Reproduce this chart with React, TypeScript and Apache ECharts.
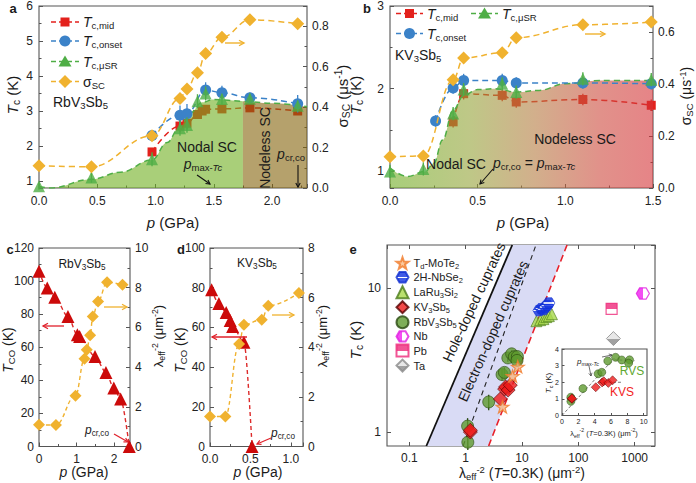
import React, { useEffect, useRef } from 'react';
import * as echarts from 'echarts';

const FF = '"Liberation Sans", Arial, Helvetica, sans-serif';

// ---------- Panel a : RbV3Sb5 ----------
const pRb = [0, 0.45, 0.97, 1.21, 1.27, 1.36, 1.43, 1.57, 1.81, 2.22];
const sigmaRb = [0.11, 0.105, 0.258, 0.443, 0.49, 0.57, 0.665, 0.745, 0.832, 0.812];
const tcMuSRRb = [0.85, 1.1, 1.62, 2.51, 2.6, 3.28, 3.5, 3.34, 3.35, 3.15];
const tcMuSRErrRb = [0.1, 0.15, 0.2, 0.22, 0.22, 0.2, 0.2, 0.15, 0.15, 0.15];
const pOnsetRb = [0.97, 1.21, 1.27, 1.43, 1.57, 1.81, 2.22];
const tcOnsetRb = [2.3, 2.88, 2.92, 3.6, 3.52, 3.38, 3.21];
const tcOnsetErrRb = [0.15, 0.28, 0.28, 0.22, 0.2, 0.15, 0.25];
const pMidRb = [0.97, 1.21, 1.27, 1.36, 1.4, 1.43, 1.57, 1.81, 2.22];
const tcMidRb = [1.83, 2.57, 2.65, 2.9, 3.0, 3.05, 3.06, 3.09, 3.0];
const tcMidErrRb = [0.1, 0.18, 0.18, 0.12, 0.1, 0.1, 0.06, 0.06, 0.06];
const pBoundRb = [0, 0.1, 0.45, 0.7, 0.97, 1.1, 1.2, 1.3, 1.4, 1.5, 1.75, 2.0, 2.3];
const tcBoundRb = [0.84, 0.8, 1.05, 1.25, 1.6, 2.1, 2.5, 2.95, 3.25, 3.33, 3.28, 3.22, 3.12];
const pNodelessRb = 1.75;

// ---------- Panel b : KV3Sb5 ----------
const pK = [0, 0.19, 0.36, 0.42, 0.64, 0.72, 1.1, 1.49];
const sigmaK = [0.12, 0.123, 0.416, 0.5, 0.52, 0.578, 0.628, 0.638];
const tcMuSRK = [1.0, 1.03, 1.7, 1.99, 2.06, 1.96, 2.12, 2.11];
const tcMuSRErrK = [0.08, 0.08, 0.08, 0.08, 0.08, 0.08, 0.08, 0.08];
const pOnsetK = [0.26, 0.36, 0.42, 0.64, 0.72, 1.1, 1.49];
const tcOnsetK = [1.61, 2.01, 2.1, 2.1, 2.07, 2.07, 2.06];
const tcOnsetErrK = [0.07, 0.07, 0.08, 0.08, 0.07, 0.07, 0.07];
const pMidK = [0.36, 0.42, 0.64, 0.72, 1.1, 1.49];
const tcMidK = [1.6, 1.94, 1.92, 1.84, 1.87, 1.8];
const tcMidErrK = [0.07, 0.07, 0.07, 0.07, 0.07, 0.07];
const pBoundK = [0, 0.1, 0.2, 0.25, 0.3, 0.36, 0.42, 0.5, 0.6, 0.72, 0.85, 1.0, 1.2, 1.5];
const tcBoundK = [1.04, 0.94, 1.0, 1.1, 1.38, 1.74, 1.92, 1.99, 2.0, 1.96, 1.98, 2.06, 2.1, 2.1];

// ---------- Panel c : RbV3Sb5 T_CO & lambda ----------
const pTcoRb = [0.0, 0.22, 0.42, 0.77, 1.02, 1.08, 1.49, 1.78, 1.99, 2.17, 2.4];
const tcoRb = [106, 95.8, 90.3, 78.6, 67.5, 66.5, 54.4, 44.8, 35.3, 28.7, 0];
const lambdaRb = [1.09, 1.08, 2.56, 4.42, 4.87, 5.6, 6.55, 7.31, 8.27, 8.15];

// ---------- Panel d : KV3Sb5 T_CO & lambda ----------
const pTcoK = [0.02, 0.11, 0.2, 0.25, 0.28, 0.42, 0.52];
const tcoK = [79, 72, 67.5, 63.5, 60.5, 52.5, 0];
const pLambdaK = [0, 0.19, 0.36, 0.42, 0.64, 0.72, 1.1];
const lambdaK = [1.21, 1.21, 4.13, 4.91, 5.11, 5.67, 6.19];
const tcMuSRKLambda = [1.0, 1.03, 1.7, 1.99, 2.06, 1.96, 2.12];

// ---------- Panel e : Uemura plot ----------
const moTe2Lambda = [4.5, 6.8, 8.4];
const moTe2Tc = [1.5, 2.45, 2.85];
const nbSe2Lambda = [20, 22, 24, 26, 28, 30];
const nbSe2Tc = [7.0, 7.2, 7.1, 7.4, 7.6, 7.9];
const laRuLambda = [18, 21, 24, 27, 30, 34];
const laRuTc = [5.9, 6.0, 6.1, 6.3, 6.4, 6.6];
const nbLambda = [1400];
const nbTc = [9.2];
const pbLambda = [390];
const pbTc = [7.2];
const taLambda = [420];
const taTc = [4.47];
const holeLineX = [0.2, 6.7];
const holeLineY = [0.8, 20];
const electronLineX = [0.9, 17.7];
const electronLineY = [0.8, 20];
const redLineX = [2.55, 63];
const redLineY = [0.8, 20];
// inset guides
const guideRiseX = [0, 6.4];
const guideRiseY = [0, 3.45];
const guidePlateauX = [6.4, 8.9];
const guidePlateauY = [3.35, 3.3];
const guideKX = [4.4, 7.4];
const guideKY = [2.0, 2.0];

// ---------- colours ----------
const RED = '#e3211c';
const BLUE = '#3b82c8';
const GREEN = '#4fae46';
const ORANGE = '#f0b22f';
const DRED = '#cc0a0a';
const TXT = '#1a1a1a';

const zipXY = (xs: number[], ys: number[]) => xs.map((x, i) => [x, ys[i]]);

function rich(S: number) {
  const L = S + 3;
  const s = Math.round(S * 0.68 * 10) / 10;
  const sl = Math.max(s - 1, 4);
  return {
    n: { fontSize: S, fontFamily: FF, lineHeight: L },
    i: { fontSize: S, fontFamily: FF, fontStyle: 'italic', lineHeight: L },
    b: { fontSize: S, fontFamily: FF, fontWeight: 'bold', lineHeight: L },
    s: { fontSize: s, fontFamily: FF, lineHeight: sl, verticalAlign: 'bottom' },
    si: { fontSize: s, fontFamily: FF, fontStyle: 'italic', lineHeight: sl, verticalAlign: 'bottom' },
    u: { fontSize: s, fontFamily: FF, lineHeight: sl, verticalAlign: 'top' },
  };
}

function gtext(x: number, y: number, text: string, S: number, o: any = {}) {
  const align = o.align || 'center';
  return {
    type: 'text',
    x,
    y,
    rotation: o.rot || 0,
    z: 100,
    silent: true,
    style: {
      text,
      rich: rich(S),
      fill: o.color || TXT,
      font: `${S}px ${FF}`,
      align,
      verticalAlign: 'middle',
      textAlign: align,
      textVerticalAlign: 'middle',
    },
  };
}

function arrow(x1: number, y1: number, x2: number, y2: number, color: string, w = 1.3, head = 5) {
  const a = Math.atan2(y2 - y1, x2 - x1);
  const hx = x2 - head * Math.cos(a);
  const hy = y2 - head * Math.sin(a);
  const px = -Math.sin(a) * head * 0.55;
  const py = Math.cos(a) * head * 0.55;
  return [
    { type: 'line', z: 100, silent: true, shape: { x1, y1, x2, y2 }, style: { stroke: color, lineWidth: w } },
    {
      type: 'polyline', z: 100, silent: true,
      shape: { points: [[hx + px, hy + py], [x2, y2], [hx - px, hy - py]] },
      style: { stroke: color, lineWidth: w, fill: null },
    },
  ];
}

function legendMarker(sym: string, cx: number, cy: number, color: string) {
  if (sym === 'rect') return { type: 'rect', z: 100, shape: { x: cx - 4.5, y: cy - 4.5, width: 9, height: 9 }, style: { fill: color } };
  if (sym === 'circle') return { type: 'circle', z: 100, shape: { cx, cy, r: 5.5 }, style: { fill: color } };
  if (sym === 'triangle') return { type: 'polygon', z: 100, shape: { points: [[cx, cy - 6], [cx + 6.5, cy + 5], [cx - 6.5, cy + 5]] }, style: { fill: color } };
  return { type: 'polygon', z: 100, shape: { points: [[cx, cy - 6.5], [cx + 6.5, cy], [cx, cy + 6.5], [cx - 6.5, cy]] }, style: { fill: color } };
}

function legendRow(x1: number, x2: number, y: number, color: string, sym: string, label: string) {
  return [
    { type: 'line', z: 100, shape: { x1, y1: y, x2, y2: y }, style: { stroke: color, lineWidth: 1.5, lineDash: [5, 3] } },
    legendMarker(sym, (x1 + x2) / 2, y, color),
    gtext(x2 + 4, y, label, 14, { align: 'left' }),
  ];
}

function ax(o: any) {
  const { axisLabel, axisTick, minorTick, ...rest } = o;
  return {
    type: 'value',
    axisLine: { show: false },
    axisTick: { show: true, inside: true, length: 4, lineStyle: { color: '#555', width: 1 }, ...(axisTick || {}) },
    minorTick: { show: true, splitNumber: 2, length: 2.5, lineStyle: { color: '#555', width: 1 }, ...(minorTick || {}) },
    splitLine: { show: false },
    minorSplitLine: { show: false },
    axisLabel: { fontSize: 12, fontFamily: FF, color: '#222', margin: 6, ...(axisLabel || {}) },
    ...rest,
  };
}

const f1 = (v: number) => v.toFixed(1);
const logFmt = (v: number) => (v >= 1 ? String(Math.round(v)) : String(+v.toPrecision(1)));

function dashedLine(xi: number, yi: number, data: number[][], color: string, sym: string, size: number, z: number, extra: any = {}) {
  return {
    type: 'line', xAxisIndex: xi, yAxisIndex: yi, z, data,
    smooth: 0.4, smoothMonotone: 'x',
    symbol: sym, symbolSize: size, showSymbol: sym !== 'none',
    itemStyle: { color },
    lineStyle: { color, width: 1.5, type: [6, 4] },
    silent: true,
    ...extra,
  };
}

function errBars(xi: number, yi: number, xs: number[], ys: number[], errs: number[], color: string, z: number) {
  return {
    type: 'custom', xAxisIndex: xi, yAxisIndex: yi, z, silent: true,
    data: xs.map((x, i) => [x, ys[i], errs[i]]),
    encode: { x: 0, y: 1 },
    renderItem: (params: any, api: any) => {
      const x = api.value(0);
      const y = api.value(1);
      const e = api.value(2);
      const p1 = api.coord([x, y - e]);
      const p2 = api.coord([x, y + e]);
      return { type: 'line', shape: { x1: p1[0], y1: p1[1], x2: p2[0], y2: p2[1] }, style: { stroke: color, lineWidth: 1.3 } };
    },
  };
}

function buildOption() {
  const boundA = zipXY(pBoundRb, tcBoundRb);
  const gradB = new echarts.graphic.LinearGradient(0, 0, 1, 0, [
    { offset: 0, color: 'rgb(110,173,33)' },
    { offset: 0.3, color: 'rgb(147,163,55)' },
    { offset: 0.55, color: 'rgb(180,122,63)' },
    { offset: 0.8, color: 'rgb(205,72,60)' },
    { offset: 1, color: 'rgb(213,50,55)' },
  ]);

  const hexPath = 'path://M-5,-8.66L5,-8.66L10,0L5,8.66L-5,8.66L-10,0Z';
  const starPath = 'path://M0,-10L2.35,-3.24L9.51,-3.09L3.8,1.24L5.88,8.09L0,4L-5.88,8.09L-3.8,1.24L-9.51,-3.09L-2.35,-3.24Z';

  const eNames = ['Td-MoTe2', '2H-NbSe2', 'LaRu3Si2', 'KV3Sb5', 'RbV3Sb5', 'Nb', 'Pb', 'Ta'];
  const eLabels: Record<string, string> = {
    'Td-MoTe2': '{n|T}{s|d}{n|-MoTe}{s|2}',
    '2H-NbSe2': '{n|2H-NbSe}{s|2}',
    'LaRu3Si2': '{n|LaRu}{s|3}{n|Si}{s|2}',
    'KV3Sb5': '{n|KV}{s|3}{n|Sb}{s|5}',
    'RbV3Sb5': '{n|RbV}{s|3}{n|Sb}{s|5}',
    'Nb': '{n|Nb}',
    'Pb': '{n|Pb}',
    'Ta': '{n|Ta}',
  };

  const scatterE = (name: string, data: number[][], symbol: string, size: number, itemStyle: any, z = 6) => ({
    type: 'scatter', name, xAxisIndex: 4, yAxisIndex: 8, z, data, symbol, symbolSize: size,
    symbolKeepAspect: true, itemStyle, silent: true,
  });

  const series: any[] = [
    // ----- panel a -----
    errBars(0, 0, pMidRb, tcMidRb, tcMidErrRb, RED, 2),
    dashedLine(0, 0, zipXY(pMidRb, tcMidRb), RED, 'rect', 9, 2),
    {
      type: 'line', xAxisIndex: 0, yAxisIndex: 0, z: 3, silent: true,
      data: boundA.filter((d) => d[0] <= pNodelessRb), smooth: 0.4, smoothMonotone: 'x',
      symbol: 'none', lineStyle: { opacity: 0 },
      areaStyle: { color: 'rgb(112,175,32)', opacity: 0.6, origin: 'start' },
    },
    {
      type: 'line', xAxisIndex: 0, yAxisIndex: 0, z: 3, silent: true,
      data: boundA.filter((d) => d[0] >= pNodelessRb), smooth: 0.4, smoothMonotone: 'x',
      symbol: 'none', lineStyle: { opacity: 0 },
      areaStyle: { color: 'rgb(132,98,10)', opacity: 0.6, origin: 'start' },
    },
    dashedLine(0, 0, boundA, GREEN, 'none', 0, 4),
    errBars(0, 0, pOnsetRb, tcOnsetRb, tcOnsetErrRb, BLUE, 4),
    dashedLine(0, 0, zipXY(pOnsetRb, tcOnsetRb), BLUE, 'circle', 11, 4),
    errBars(0, 0, pRb, tcMuSRRb, tcMuSRErrRb, GREEN, 5),
    { type: 'scatter', xAxisIndex: 0, yAxisIndex: 0, z: 5, silent: true, data: zipXY(pRb, tcMuSRRb), symbol: 'triangle', symbolSize: 12, itemStyle: { color: GREEN } },
    dashedLine(0, 1, zipXY(pRb, sigmaRb), ORANGE, 'diamond', 13, 6),

    // ----- panel b -----
    errBars(1, 2, pMidK, tcMidK, tcMidErrK, RED, 2),
    dashedLine(1, 2, zipXY(pMidK, tcMidK), RED, 'rect', 9, 2),
    {
      type: 'line', xAxisIndex: 1, yAxisIndex: 2, z: 3, silent: true,
      data: zipXY(pBoundK, tcBoundK), smooth: 0.4, smoothMonotone: 'x',
      symbol: 'none', lineStyle: { opacity: 0 },
      areaStyle: { color: gradB, opacity: 0.6, origin: 'start' },
    },
    dashedLine(1, 2, zipXY(pBoundK, tcBoundK), GREEN, 'none', 0, 4),
    errBars(1, 2, pOnsetK, tcOnsetK, tcOnsetErrK, BLUE, 4),
    dashedLine(1, 2, zipXY(pOnsetK, tcOnsetK), BLUE, 'circle', 11, 4),
    errBars(1, 2, pK, tcMuSRK, tcMuSRErrK, GREEN, 5),
    { type: 'scatter', xAxisIndex: 1, yAxisIndex: 2, z: 5, silent: true, data: zipXY(pK, tcMuSRK), symbol: 'triangle', symbolSize: 12, itemStyle: { color: GREEN } },
    dashedLine(1, 3, zipXY(pK, sigmaK), ORANGE, 'diamond', 13, 6),

    // ----- panel c -----
    dashedLine(2, 4, zipXY(pTcoRb, tcoRb), DRED, 'triangle', 13, 4, { smooth: 0.3, lineStyle: { color: '#dd2a2a', width: 1.4, type: [4, 3] } }),
    dashedLine(2, 5, zipXY(pRb, lambdaRb), ORANGE, 'diamond', 12, 5, { lineStyle: { color: ORANGE, width: 1.4, type: [4, 3] } }),

    // ----- panel d -----
    dashedLine(3, 6, zipXY(pTcoK, tcoK), DRED, 'triangle', 13, 4, { smooth: 0.3, lineStyle: { color: '#dd2a2a', width: 1.4, type: [4, 3] } }),
    dashedLine(3, 7, zipXY(pLambdaK, lambdaK), ORANGE, 'diamond', 12, 5, { lineStyle: { color: ORANGE, width: 1.4, type: [4, 3] } }),

    // ----- panel e -----
    {
      type: 'custom', xAxisIndex: 4, yAxisIndex: 8, z: 1, silent: true, clip: true,
      data: [holeLineX[0], holeLineX[1], redLineX[1], redLineX[0]].map((x, i) => [x, [holeLineY[0], holeLineY[1], redLineY[1], redLineY[0]][i]]),
      renderItem: (params: any, api: any) => {
        if (params.dataIndex !== 0) return null;
        const pts = [
          api.coord([holeLineX[0], holeLineY[0]]),
          api.coord([holeLineX[1], holeLineY[1]]),
          api.coord([redLineX[1], redLineY[1]]),
          api.coord([redLineX[0], redLineY[0]]),
        ];
        return { type: 'polygon', shape: { points: pts }, style: { fill: '#d9dbf5' } };
      },
    },
    { type: 'line', xAxisIndex: 4, yAxisIndex: 8, z: 2, silent: true, data: zipXY(holeLineX, holeLineY), symbol: 'none', lineStyle: { color: '#111', width: 1.8 } },
    { type: 'line', xAxisIndex: 4, yAxisIndex: 8, z: 2, silent: true, data: zipXY(electronLineX, electronLineY), symbol: 'none', lineStyle: { color: '#222', width: 1.1, type: [5, 4] } },
    { type: 'line', xAxisIndex: 4, yAxisIndex: 8, z: 2, silent: true, data: zipXY(redLineX, redLineY), symbol: 'none', lineStyle: { color: '#e8202a', width: 1.6, type: [7, 4] } },
    errBars(4, 8, lambdaRb, tcMuSRRb, tcMuSRErrRb, '#2b4a12', 4),
    scatterE('RbV3Sb5', zipXY(lambdaRb, tcMuSRRb), 'circle', 12, { color: '#5e9a2e', borderColor: '#2b4a12', borderWidth: 0.8 }, 5),
    scatterE('KV3Sb5', zipXY(lambdaK, tcMuSRKLambda), 'diamond', 14, { color: '#ee1c1c', borderColor: '#500', borderWidth: 0.8 }, 6),
    scatterE('Td-MoTe2', zipXY(moTe2Lambda, moTe2Tc), starPath, 13, { color: 'rgba(250,180,120,0.9)', borderColor: '#f07a2a', borderWidth: 1.2 }, 7),
    scatterE('2H-NbSe2', zipXY(nbSe2Lambda, nbSe2Tc), hexPath, 12, {
      color: new echarts.graphic.LinearGradient(0, 0, 0, 1, [
        { offset: 0, color: '#1232e0' }, { offset: 0.44, color: '#1232e0' },
        { offset: 0.44, color: '#ffffff' }, { offset: 0.56, color: '#ffffff' },
        { offset: 0.56, color: '#1232e0' }, { offset: 1, color: '#1232e0' },
      ]), borderColor: '#1030d0', borderWidth: 0.8,
    }, 7),
    scatterE('LaRu3Si2', zipXY(laRuLambda, laRuTc), 'triangle', 11, { color: '#a8d84a', borderColor: '#4a7a1a', borderWidth: 0.8 }, 6),
    scatterE('Nb', zipXY(nbLambda, nbTc), hexPath, 13, {
      color: new echarts.graphic.LinearGradient(0, 0, 1, 0, [
        { offset: 0, color: '#f020f0' }, { offset: 0.5, color: '#f020f0' },
        { offset: 0.5, color: '#ffffff' }, { offset: 1, color: '#ffffff' },
      ]), borderColor: '#e020e0', borderWidth: 1.2,
    }),
    scatterE('Pb', zipXY(pbLambda, pbTc), 'rect', 11, {
      color: new echarts.graphic.LinearGradient(0, 0, 0, 1, [
        { offset: 0, color: '#ee2a7b' }, { offset: 0.55, color: '#ee2a7b' },
        { offset: 0.55, color: '#ffffff' }, { offset: 1, color: '#ffffff' },
      ]), borderColor: '#ee2a7b', borderWidth: 1.2,
    }),
    scatterE('Ta', zipXY(taLambda, taTc), 'diamond', 14, {
      color: new echarts.graphic.LinearGradient(0, 0, 0, 1, [
        { offset: 0, color: '#e2e2e2' }, { offset: 0.5, color: '#e2e2e2' },
        { offset: 0.5, color: '#8a8a8a' }, { offset: 1, color: '#8a8a8a' },
      ]), borderColor: '#8a8a8a', borderWidth: 1,
    }),

    // ----- inset -----
    { type: 'line', xAxisIndex: 5, yAxisIndex: 9, z: 3, silent: true, data: zipXY(guideRiseX, guideRiseY), symbol: 'none', lineStyle: { color: '#555', width: 0.8, type: [3, 2] } },
    { type: 'line', xAxisIndex: 5, yAxisIndex: 9, z: 3, silent: true, data: zipXY(guidePlateauX, guidePlateauY), symbol: 'none', lineStyle: { color: '#555', width: 0.8, type: [3, 2] } },
    { type: 'line', xAxisIndex: 5, yAxisIndex: 9, z: 3, silent: true, data: zipXY(guideKX, guideKY), symbol: 'none', lineStyle: { color: '#555', width: 0.8, type: [3, 2] } },
    { type: 'scatter', xAxisIndex: 5, yAxisIndex: 9, z: 5, silent: true, data: zipXY(lambdaRb, tcMuSRRb), symbol: 'circle', symbolSize: 8, itemStyle: { color: '#5e9a2e', borderColor: '#2b4a12', borderWidth: 0.6 } },
    { type: 'scatter', xAxisIndex: 5, yAxisIndex: 9, z: 6, silent: true, data: zipXY(lambdaK, tcMuSRKLambda), symbol: 'diamond', symbolSize: 9, itemStyle: { color: '#ee1c1c', borderColor: '#500', borderWidth: 0.6 } },
  ];

  const grid = [
    { left: 39, top: 5, width: 268, height: 183 },
    { left: 390, top: 5, width: 263, height: 183 },
    { left: 39, top: 248, width: 91, height: 198.5 },
    { left: 210, top: 248, width: 93, height: 198.5 },
    { left: 387, top: 245, width: 268, height: 201 },
    { left: 562, top: 349, width: 85, height: 66.5, backgroundColor: '#ffffff' },
  ].map((g) => ({ show: true, borderColor: '#555', borderWidth: 1.1, backgroundColor: 'transparent', containLabel: false, ...g }));

  const xAxis = [
    ax({ gridIndex: 0, min: 0, max: 2.3, interval: 0.5, axisLabel: { formatter: f1, showMaxLabel: false, margin: 7 } }),
    ax({ gridIndex: 1, min: 0, max: 1.5, interval: 0.5, axisLabel: { formatter: f1, margin: 7 } }),
    ax({ gridIndex: 2, min: 0, max: 2.42, interval: 1, axisLabel: { showMaxLabel: false, margin: 6 } }),
    ax({ gridIndex: 3, min: 0, max: 1.15, interval: 0.5, axisLabel: { formatter: f1, showMaxLabel: false, margin: 6 } }),
    ax({ gridIndex: 4, type: 'log', logBase: 10, min: 0.04, max: 2300, minorTick: { show: false }, axisLabel: { formatter: logFmt, showMinLabel: false, showMaxLabel: false, margin: 6 } }),
    ax({ gridIndex: 5, min: 0, max: 10.4, interval: 2, axisTick: { length: 2.5 }, minorTick: { show: false }, axisLabel: { fontSize: 7, margin: 2, showMaxLabel: false } }),
    ax({ gridIndex: 4, type: 'log', logBase: 10, position: 'top', min: 0.04, max: 2300, minorTick: { show: false }, axisLabel: { show: false } }),
  ];

  const yAxis = [
    ax({ gridIndex: 0, min: 0.8, max: 6, minInterval: 1, maxInterval: 1, axisLabel: { showMinLabel: false, margin: 6 } }),
    ax({ gridIndex: 0, position: 'right', min: 0, max: 0.9, interval: 0.2, axisLabel: { formatter: f1, showMaxLabel: false, margin: 5 } }),
    ax({ gridIndex: 1, min: 0.8, max: 3, minInterval: 1, maxInterval: 1, axisLabel: { showMinLabel: false, margin: 6 } }),
    ax({ gridIndex: 1, position: 'right', min: 0, max: 0.7, interval: 0.2, axisLabel: { formatter: f1, showMaxLabel: false, margin: 5 } }),
    ax({ gridIndex: 2, min: 0, max: 120, interval: 20, axisLabel: { margin: 5 } }),
    ax({ gridIndex: 2, position: 'right', min: 0, max: 10, interval: 2, axisLabel: { margin: 5 } }),
    ax({ gridIndex: 3, min: 0, max: 100, interval: 20, axisLabel: { margin: 5 } }),
    ax({ gridIndex: 3, position: 'right', min: 0, max: 8, interval: 2, axisLabel: { margin: 5 } }),
    ax({ gridIndex: 4, type: 'log', logBase: 10, min: 0.8, max: 20, minorTick: { show: false }, axisLabel: { formatter: logFmt, showMinLabel: false, showMaxLabel: false, margin: 6 } }),
    ax({ gridIndex: 5, min: 0, max: 4, interval: 1, axisTick: { length: 2.5 }, minorTick: { show: false }, axisLabel: { fontSize: 7, margin: 3 } }),
    ax({ gridIndex: 4, type: 'log', logBase: 10, position: 'right', min: 0.8, max: 20, minorTick: { show: false }, axisLabel: { show: false } }),
  ];

  const R90 = Math.PI / 2;
  const elements: any[] = [
    // panel letters
    gtext(13, 8, '{b|a}', 13),
    gtext(367, 8, '{b|b}', 13),
    gtext(10, 249, '{b|c}', 13),
    gtext(181, 249, '{b|d}', 13),
    gtext(353, 249, '{b|e}', 13),

    // panel a legend
    ...legendRow(51, 79, 22, RED, 'rect', '{i|T}{s|c,mid}'),
    ...legendRow(51, 79, 41, BLUE, 'circle', '{i|T}{s|c,onset}'),
    ...legendRow(51, 79, 61.5, GREEN, 'triangle', '{i|T}{s|c,μSR}'),
    ...legendRow(51, 79, 81.5, ORANGE, 'diamond', '{n|σ}{s|SC}'),
    gtext(53, 102, '{n|RbV}{s|3}{n|Sb}{s|5}', 14, { align: 'left' }),
    gtext(207, 147, '{n|Nodal SC}', 14),
    gtext(203, 164, '{i|p}{s|max-}{si|Tc}', 14),
    ...arrow(197, 175, 210, 184, '#111', 1.1, 4),
    gtext(265, 148, '{n|Nodeless SC}', 14, { rot: R90 }),
    gtext(291, 154, '{i|p}{s|cr,co}', 14),
    ...arrow(298, 165, 298, 187, '#111', 1.1, 4),
    ...arrow(225, 43, 244, 43, ORANGE, 1.4, 5),
    gtext(12, 95, '{i|T}{s|c}{n| (K)}', 15, { rot: R90 }),
    gtext(342, 96, '{n|σ}{s|SC}{n| (μs}{u|-1}{n|)}', 15, { rot: R90 }),
    gtext(173, 222, '{i|p}{n| (GPa)}', 15),

    // panel b legend
    ...legendRow(396, 423, 13.5, RED, 'rect', '{i|T}{s|c,mid}'),
    ...legendRow(471, 498, 13.5, GREEN, 'triangle', '{i|T}{s|c,μSR}'),
    ...legendRow(396, 423, 33.5, BLUE, 'circle', '{i|T}{s|c,onset}'),
    gtext(395, 55, '{n|KV}{s|3}{n|Sb}{s|5}', 14, { align: 'left' }),
    gtext(456, 164, '{n|Nodal SC}', 14),
    gtext(575, 139, '{n|Nodeless SC}', 14),
    gtext(493, 163, '{i|p}{s|cr,co}{n| = }{i|p}{s|max-}{si|Tc}', 14, { align: 'left' }),
    ...arrow(493, 169, 480, 184, '#111', 1.1, 4),
    ...arrow(585, 34, 605, 34, ORANGE, 1.4, 5),
    gtext(355, 95, '{i|T}{s|c}{n| (K)}', 15, { rot: R90 }),
    gtext(686, 96, '{n|σ}{s|SC}{n| (μs}{u|-1}{n|)}', 14, { rot: R90 }),
    gtext(523, 222, '{i|p}{n| (GPa)}', 15),

    // panel c
    gtext(82, 264, '{n|RbV}{s|3}{n|Sb}{s|5}', 12),
    gtext(97, 430, '{i|p}{s|cr,co}', 12),
    ...arrow(114, 434, 128, 442, '#e0202a', 1.2, 4),
    ...arrow(64, 326, 43, 326, '#e0202a', 1.3, 5),
    ...arrow(104, 307, 127, 307, ORANGE, 1.3, 5),
    gtext(8, 350, '{i|T}{s|CO}{n| (K)}', 14, { rot: R90 }),
    gtext(158, 336, '{n|λ}{s|eff}{u|-2}{n| (μm}{u|-2}{n|)}', 13, { rot: R90 }),
    gtext(84, 472, '{i|p}{n| (GPa)}', 14),

    // panel d
    gtext(257, 263, '{n|KV}{s|3}{n|Sb}{s|5}', 12),
    gtext(283, 433, '{i|p}{s|cr,co}', 12),
    ...arrow(271, 438, 257, 444, '#e0202a', 1.2, 4),
    ...arrow(247, 337, 212, 337, '#e0202a', 1.3, 5),
    ...arrow(272, 315, 294, 315, ORANGE, 1.3, 5),
    gtext(180, 350, '{i|T}{s|CO}{n| (K)}', 14, { rot: R90 }),
    gtext(322, 336, '{n|λ}{s|eff}{u|-2}{n| (μm}{u|-2}{n|)}', 13, { rot: R90 }),
    gtext(258, 472, '{i|p}{n| (GPa)}', 14),

    // panel e
    gtext(474, 302, '{n|Hole-doped cuprates}', 14, { rot: (65 * Math.PI) / 180 }),
    gtext(493, 331, '{n|Electron-doped cuprates}', 14, { rot: (66 * Math.PI) / 180 }),
    gtext(355, 340, '{i|T}{s|c}{n| (K)}', 15, { rot: R90 }),
    gtext(522, 473, '{n|λ}{s|eff}{u|-2}{n| (}{i|T}{n|=0.3K) (μm}{u|-2}{n|)}', 14),
    // inset
    gtext(548, 383, '{i|T}{s|c}{n| (K)}', 8, { rot: R90 }),
    gtext(604, 433, '{n|λ}{s|eff}{u|-2}{n| (}{i|T}{n|=0.3K) (μm}{u|-2}{n|)}', 7.5),
    gtext(632, 371, '{n|RVS}', 12, { color: '#5fa831' }),
    gtext(622, 392, '{n|KVS}', 12, { color: '#f21d1d' }),
    gtext(588, 361, '{i|p}{s|max-}{si|Tc}', 8),
    ...arrow(602, 357, 612, 355, '#333', 0.7, 3),
    ...arrow(589, 366, 591, 376, '#333', 0.7, 3),
  ];

  return {
    animation: false,
    backgroundColor: '#ffffff',
    textStyle: { fontFamily: FF },
    grid,
    xAxis,
    yAxis,
    legend: {
      data: eNames,
      orient: 'vertical',
      left: 390.5,
      top: 251.3,
      itemWidth: 12,
      itemHeight: 12,
      itemGap: 1,
      selectedMode: false,
      formatter: (name: string) => eLabels[name],
      textStyle: {
        fontFamily: FF,
        fontSize: 11,
        color: '#222',
        rich: {
          n: { fontFamily: FF, fontSize: 11, lineHeight: 14, color: '#222' },
          s: { fontFamily: FF, fontSize: 7.5, lineHeight: 6, verticalAlign: 'bottom', color: '#222' },
        },
      },
    },
    series,
    graphic: { elements },
  };
}

export default function App() {
  const ref = useRef<HTMLDivElement>(null);
  useEffect(() => {
    if (!ref.current) return;
    const chart = echarts.init(ref.current, null, { renderer: 'svg', width: 696, height: 483 });
    chart.setOption(buildOption() as any);
    return () => chart.dispose();
  }, []);
  return (
    <div
      ref={ref}
      style={{ position: 'fixed', left: 0, top: 0, width: 696, height: 483, background: '#fff' }}
    />
  );
}
